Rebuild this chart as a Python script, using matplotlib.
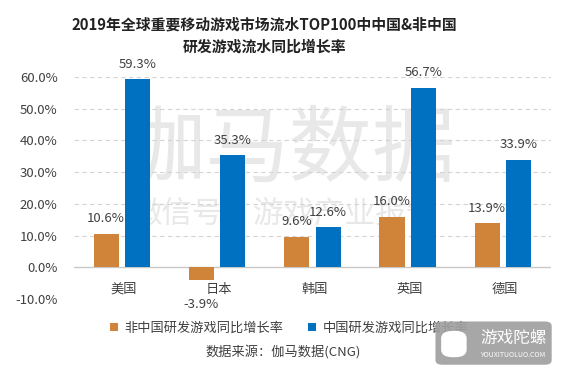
import matplotlib
matplotlib.use("Agg")
import matplotlib.pyplot as plt
from matplotlib.patches import FancyBboxPatch
import numpy as np

plt.rcParams['font.family'] = ['Noto Sans CJK SC', 'DejaVu Sans']

countries = ['美国', '日本', '韩国', '英国', '德国']
non_china = [10.6, -3.9, 9.6, 16.0, 13.9]
china = [59.3, 35.3, 12.6, 56.7, 33.9]
series_names = ['非中国研发游戏同比增长率', '中国研发游戏同比增长率']
yticks = [-10, 0, 10, 20, 30, 40, 50, 60]

orange = '#D0843A'
blue = '#0070C0'
txt = '#404040'

fig = plt.figure(figsize=(5.67, 3.76), dpi=100)
ax = fig.add_axes([0.131, 0.205, 0.84, 0.59])

x = np.arange(len(countries))
w = 0.265
off = 0.165

# watermark, behind the bars
ax.text(0.51, 0.60, '伽马数据', fontsize=60, color='#e8e8e8', ha='center', va='center',
        transform=fig.transFigure, zorder=0.5)
ax.text(0.50, 0.43, '微信号：游戏产业报告', fontsize=22, color='#e8e8e8', ha='center', va='center',
        transform=fig.transFigure, zorder=0.5)

for t in yticks:
    if t == 0:
        ax.axhline(0, color='#c8c8c8', lw=1, zorder=1)
    else:
        ax.axhline(t, color='#d4d4d4', lw=0.8, ls=(0, (4, 3)), zorder=1)

b1 = ax.bar(x - off, non_china, w, color=orange, label=series_names[0], zorder=2)
b2 = ax.bar(x + off, china, w, color=blue, label=series_names[1], zorder=2)

for bars, vals in ((b1, non_china), (b2, china)):
    for b, v in zip(bars, vals):
        cx = b.get_x() + b.get_width() / 2
        y = v + 4.7 if v >= 0 else -11.7
        ax.text(cx, y, f'{v:.1f}%', ha='center', va='center', fontsize=9.5, color=txt, zorder=3)

ax.set_ylim(-10, 60)
ax.set_xlim(-0.5, len(countries) - 0.5)
ax.set_yticks(yticks)
ax.set_yticklabels([f'{t:.1f}%' for t in yticks], fontsize=9.5, color=txt)
ax.set_xticks([])
ax.tick_params(length=0, pad=12)
for s in ax.spines.values():
    s.set_visible(False)

# category labels sit between the zero line and -10%
for xi, c in zip(x, countries):
    ax.text(xi + 0.02, -6.9, c, ha='center', va='center', fontsize=9.5, color=txt, zorder=3)

fig.legend(handles=[b1, b2], loc='center', bbox_to_anchor=(0.51, 0.128), ncol=2,
           frameon=False, fontsize=9.5, handlelength=0.6, handleheight=0.6,
           columnspacing=1.9, handletextpad=0.5, labelcolor=txt)

fig.text(0.467, 0.935, '2019年全球重要移动游戏市场流水TOP100中中国&非中国', ha='center', va='center',
         fontsize=10.7, fontweight='bold', color='#222222')
fig.text(0.467, 0.875, '研发游戏流水同比增长率', ha='center', va='center',
         fontsize=10.7, fontweight='bold', color='#222222')
fig.text(0.50, 0.064, '数据来源：伽马数据(CNG)', ha='center', va='center', fontsize=9.5, color=txt)

# logo badge, on top of the legend's end
fig.patches.append(FancyBboxPatch((0.768, 0.03), 0.205, 0.115, boxstyle='round,pad=0,rounding_size=0.012',
                                  transform=fig.transFigure, fc='#a0a0a0', ec='none', alpha=0.92, zorder=10))
fig.patches.append(FancyBboxPatch((0.778, 0.05), 0.045, 0.07, boxstyle='round,pad=0,rounding_size=0.02',
                                  transform=fig.transFigure, fc='white', ec='none', zorder=11))
fig.text(0.905, 0.1, '游戏陀螺', ha='center', va='center', fontsize=12, color='white', zorder=12)
fig.text(0.905, 0.057, 'YOUXITUOLUO.COM', ha='center', va='center', fontsize=5, color='white', zorder=12)

fig.savefig('out.png', dpi=100)
